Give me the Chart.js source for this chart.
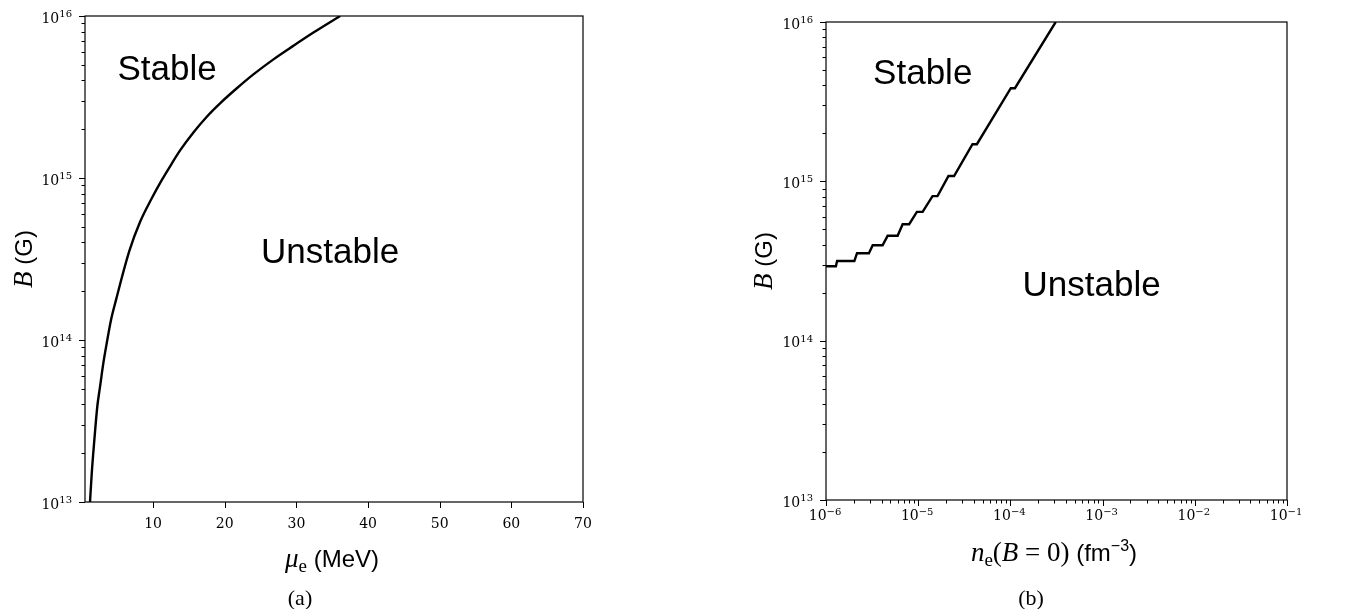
<!DOCTYPE html>
<html lang="en">
<head>
<meta charset="utf-8">
<title>Magnetic field stability</title>
<script src="https://cdn.jsdelivr.net/npm/chart.js@4.4.1/dist/chart.umd.min.js"></script>
<style>
	html, body { margin: 0; padding: 0; background: #fff; }
	body { width: 1355px; height: 609px; position: relative; overflow: hidden; }
	.panel { position: absolute; top: 0; height: 609px; }
	#panelA { left: 0; width: 677px; }
	#panelB { left: 677px; width: 678px; }
</style>
</head>
<body>
<div class="panel" id="panelA"><canvas id="chartA"></canvas></div>
<div class="panel" id="panelB"><canvas id="chartB"></canvas></div>
<script>
// panel (a): critical field vs electron chemical potential
const muE = [1.20, 1.44, 1.80, 2.22, 2.60, 3.06, 3.53, 4.13, 4.83, 6.69, 8.18, 9.82, 11.21, 12.37,
	13.77, 15.63, 17.50, 19.35, 21.69, 24.0, 26.8, 29.59, 32.38, 36.11];
const bCritA = [1.0e13, 1.5e13, 2.4e13, 3.9e13, 5.15e13, 7.2e13, 9.55e13, 1.33e14, 1.77e14, 3.55e14,
	5.35e14, 7.5e14, 9.7e14, 1.18e15, 1.48e15, 1.91e15, 2.39e15, 2.89e15, 3.58e15, 4.36e15,
	5.4e15, 6.55e15, 7.9e15, 1.0e16];

// panel (b): critical field vs electron density at B = 0 (staircase)
const nE = [1.0e-6, 1.28e-6, 1.32e-6, 2.03e-6, 2.17e-6, 2.92e-6, 3.21e-6, 4.11e-6, 4.66e-6, 5.98e-6,
	6.78e-6, 7.98e-6, 9.68e-6, 1.117e-5, 1.43e-5, 1.62e-5, 2.13e-5, 2.45e-5, 3.88e-5, 4.33e-5,
	1.01e-4, 1.12e-4, 3.10e-4];
const bCritB = [2.93e14, 2.93e14, 3.16e14, 3.16e14, 3.54e14, 3.54e14, 3.97e14, 3.97e14, 4.55e14, 4.55e14,
	5.38e14, 5.38e14, 6.43e14, 6.43e14, 8.07e14, 8.07e14, 1.08e15, 1.08e15, 1.71e15, 1.71e15,
	3.84e15, 3.84e15, 1.0e16];

// ticks
const muTicks = [10, 20, 30, 40, 50, 60, 70];
const bExponents = [13, 14, 15, 16];
const nExponents = [-6, -5, -4, -3, -2, -1];

const SERIF = '"DejaVu Serif", serif';
const MATH = '"Liberation Serif", serif';
const SANS = '"Liberation Sans", Arial, sans-serif';

// draw a run of text pieces with different fonts / vertical offsets
function richWidth(ctx, parts) {
	let w = 0;
	for (const p of parts) { ctx.font = p.font; w += ctx.measureText(p.t).width; }
	return w;
}
function drawRich(ctx, parts, x, y, align) {
	const w = richWidth(ctx, parts);
	let cx = align === 'right' ? x - w : (align === 'center' ? x - w / 2 : x);
	ctx.textAlign = 'left';
	ctx.textBaseline = 'alphabetic';
	for (const p of parts) {
		ctx.font = p.font;
		ctx.fillText(p.t, cx, y - (p.dy || 0));
		cx += ctx.measureText(p.t).width;
	}
}
function powParts(exp) {
	const e = exp < 0 ? '\u2212' + Math.abs(exp) : String(exp);
	return [{ t: '10', font: '14px ' + SERIF }, { t: e, font: '10px ' + SERIF, dy: 5.5 }];
}

function minorValues(exps) {
	const out = [];
	for (let i = 0; i < exps.length - 1; i++)
		for (let m = 2; m <= 9; m++) out.push(m * Math.pow(10, exps[i]));
	return out;
}

function drawFrame(chart) {
	const ctx = chart.ctx;
	const a = chart.chartArea;
	ctx.save();
	ctx.strokeStyle = '#000';
	ctx.lineWidth = 1.2;
	ctx.strokeRect(a.left, a.top, a.right - a.left, a.bottom - a.top);
	ctx.restore();
}

function drawYAxis(chart, labelX, labelY) {
	const ctx = chart.ctx, a = chart.chartArea, ys = chart.scales.y;
	ctx.save();
	ctx.strokeStyle = '#000';
	ctx.fillStyle = '#000';
	ctx.lineWidth = 1;
	ctx.beginPath();
	for (const e of bExponents) {
		const y = Math.round(ys.getPixelForValue(Math.pow(10, e))) + 0.5;
		ctx.moveTo(a.left - 6, y); ctx.lineTo(a.left, y);
	}
	for (const v of minorValues(bExponents)) {
		const y = Math.round(ys.getPixelForValue(v)) + 0.5;
		ctx.moveTo(a.left - 3.5, y); ctx.lineTo(a.left, y);
	}
	ctx.stroke();
	for (const e of bExponents) {
		const y = ys.getPixelForValue(Math.pow(10, e));
		drawRich(ctx, powParts(e), a.left - 13, y + 6.5, 'right');
	}
	// axis title: B (G)
	ctx.translate(labelX, labelY);
	ctx.rotate(-Math.PI / 2);
	drawRich(ctx, [
		{ t: 'B', font: 'italic 27px ' + MATH },
		{ t: ' (G)', font: '24px ' + SANS }
	], 0, 8.5, 'center');
	ctx.restore();
}

function drawText(chart, text, xv, yv) {
	const ctx = chart.ctx;
	ctx.save();
	ctx.fillStyle = '#000';
	ctx.font = '35px ' + SANS;
	ctx.textAlign = 'center';
	ctx.textBaseline = 'alphabetic';
	ctx.fillText(text, chart.scales.x.getPixelForValue(xv), chart.scales.y.getPixelForValue(yv));
	ctx.restore();
}

function drawCaption(chart, text, x, y) {
	const ctx = chart.ctx;
	ctx.save();
	ctx.fillStyle = '#000';
	ctx.font = '22px ' + MATH;
	ctx.textAlign = 'center';
	ctx.textBaseline = 'alphabetic';
	ctx.fillText(text, x, y);
	ctx.restore();
}

const axesA = {
	id: 'axesA',
	afterDraw(chart) {
		const ctx = chart.ctx, a = chart.chartArea, xs = chart.scales.x;
		drawFrame(chart);
		drawYAxis(chart, 23, 259);
		ctx.save();
		ctx.strokeStyle = '#000';
		ctx.fillStyle = '#000';
		ctx.lineWidth = 1;
		ctx.beginPath();
		for (const v of muTicks) {
			const x = Math.round(xs.getPixelForValue(v)) + 0.5;
			ctx.moveTo(x, a.bottom); ctx.lineTo(x, a.bottom + 6);
		}
		ctx.stroke();
		ctx.font = '14px ' + SERIF;
		ctx.textAlign = 'center';
		ctx.textBaseline = 'alphabetic';
		for (const v of muTicks) ctx.fillText(String(v), xs.getPixelForValue(v), a.bottom + 26);
		drawRich(ctx, [
			{ t: '\u03bc', font: 'italic 27px ' + MATH },
			{ t: 'e', font: '19px ' + MATH, dy: -5 },
			{ t: ' (MeV)', font: '24px ' + SANS }
		], 332, 567, 'center');
		ctx.restore();
		drawText(chart, 'Stable', 11.95, 4.03e15);
		drawText(chart, 'Unstable', 34.7, 3.0e14);
		drawCaption(chart, '(a)', 300, 605);
	}
};

const axesB = {
	id: 'axesB',
	afterDraw(chart) {
		const ctx = chart.ctx, a = chart.chartArea, xs = chart.scales.x;
		drawFrame(chart);
		drawYAxis(chart, 86, 261);
		ctx.save();
		ctx.strokeStyle = '#000';
		ctx.fillStyle = '#000';
		ctx.lineWidth = 1;
		ctx.beginPath();
		for (const e of nExponents) {
			const x = Math.round(xs.getPixelForValue(Math.pow(10, e))) + 0.5;
			ctx.moveTo(x, a.bottom); ctx.lineTo(x, a.bottom + 6);
		}
		for (const v of minorValues(nExponents)) {
			const x = Math.round(xs.getPixelForValue(v)) + 0.5;
			ctx.moveTo(x, a.bottom); ctx.lineTo(x, a.bottom + 3.5);
		}
		ctx.stroke();
		for (const e of nExponents) {
			drawRich(ctx, powParts(e), xs.getPixelForValue(Math.pow(10, e)) - 1, a.bottom + 20, 'center');
		}
		drawRich(ctx, [
			{ t: 'n', font: 'italic 27px ' + MATH },
			{ t: 'e', font: '19px ' + MATH, dy: -5 },
			{ t: '(', font: '27px ' + MATH },
			{ t: 'B', font: 'italic 27px ' + MATH },
			{ t: ' = 0)', font: '27px ' + MATH },
			{ t: ' (fm', font: '24px ' + SANS },
			{ t: '\u22123', font: '16px ' + SANS, dy: 10 },
			{ t: ')', font: '24px ' + SANS }
		], 1054 - 677, 561, 'center');
		ctx.restore();
		drawText(chart, 'Stable', 1.12e-5, 4.06e15);
		drawText(chart, 'Unstable', 7.6e-4, 1.9e14);
		drawCaption(chart, '(b)', 1031 - 677, 605);
	}
};

const commonY = { type: 'logarithmic', display: false, min: 1e13, max: 1e16 };

new Chart(document.getElementById('chartA'), {
	type: 'line',
	data: {
		datasets: [{
			data: muE.map((x, i) => ({ x: x, y: bCritA[i] })),
			borderColor: '#000',
			borderWidth: 2.4,
			pointRadius: 0,
			cubicInterpolationMode: 'monotone',
			fill: false
		}]
	},
	options: {
		responsive: true,
		maintainAspectRatio: false,
		animation: false,
		layout: { padding: { left: 85, right: 94, top: 16, bottom: 107 } },
		plugins: { legend: { display: false }, tooltip: { enabled: false } },
		scales: {
			x: { type: 'linear', display: false, min: 0.5, max: 70 },
			y: commonY
		}
	},
	plugins: [axesA]
});

new Chart(document.getElementById('chartB'), {
	type: 'line',
	data: {
		datasets: [{
			data: nE.map((x, i) => ({ x: x, y: bCritB[i] })),
			borderColor: '#000',
			borderWidth: 2.4,
			pointRadius: 0,
			tension: 0,
			fill: false
		}]
	},
	options: {
		responsive: true,
		maintainAspectRatio: false,
		animation: false,
		layout: { padding: { left: 149, right: 68, top: 22, bottom: 109 } },
		plugins: { legend: { display: false }, tooltip: { enabled: false } },
		scales: {
			x: { type: 'logarithmic', display: false, min: 1e-6, max: 1e-1 },
			y: Object.assign({}, commonY)
		}
	},
	plugins: [axesB]
});
</script>
</body>
</html>
